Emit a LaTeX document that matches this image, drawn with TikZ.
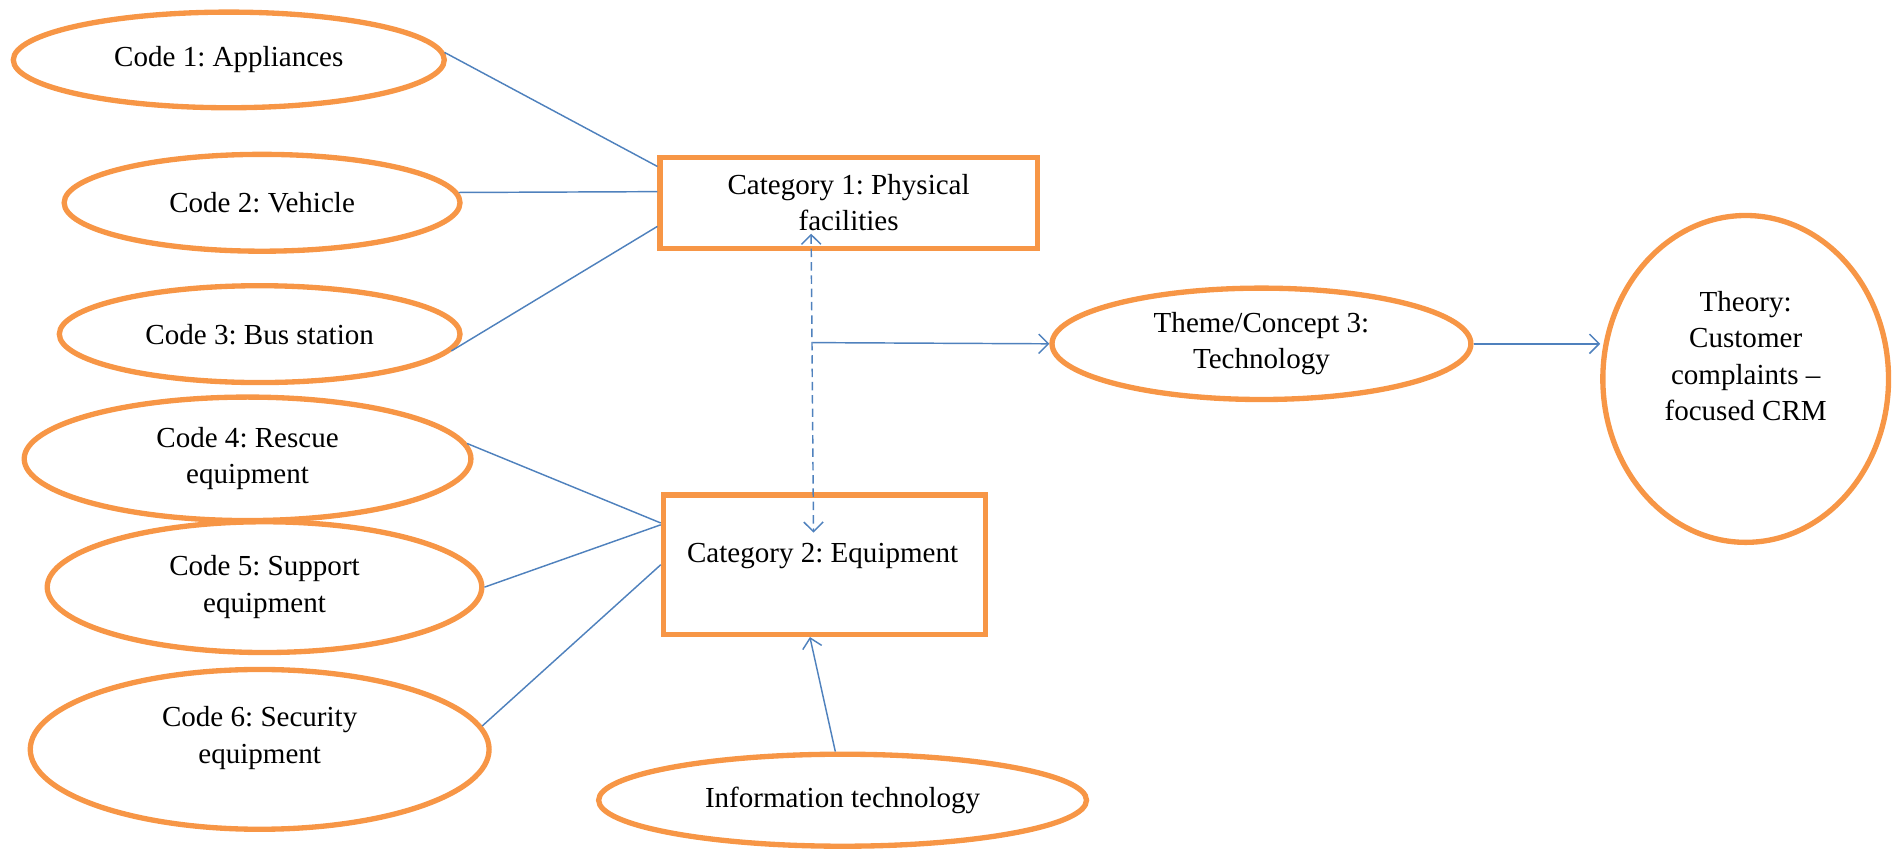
\documentclass[tikz,border=0pt]{standalone}
\usepackage{fontspec}
\setmainfont{Liberation Serif}
\usetikzlibrary{shapes.geometric,arrows.meta}
\frenchspacing

\definecolor{codeorange}{RGB}{247,150,70}
\definecolor{linkblue}{RGB}{79,129,189}

\tikzset{
  codenode/.style={ellipse, draw=codeorange, line width=2.2pt, inner sep=0pt, align=center, font=\fontsize{12pt}{15pt}\selectfont},
  catnode/.style={rectangle, draw=codeorange, line width=2.2pt, inner sep=0pt, align=center, font=\fontsize{12pt}{15pt}\selectfont},
  txt/.style={inner sep=0pt, align=center, font=\fontsize{12pt}{15pt}\selectfont},
  link/.style={draw=linkblue, line width=0.6pt},
}

\begin{document}
\begin{tikzpicture}[x=0.5pt, y=-0.5pt, >={Straight Barb[length=4pt,width=8pt]}]
\useasboundingbox (0, 0) rectangle (1567, 702);

% codes
\node[codenode, minimum width=178pt, minimum height=39.5pt] (code1) at (189, 49.5) {Code 1: Appliances};
\node[codenode, minimum width=163.5pt, minimum height=40pt] (code2) at (216.5, 167.5) {Code 2: Vehicle};
\node[codenode, minimum width=165.5pt, minimum height=40pt] (code3) at (214.5, 276) {Code 3: Bus station};
\node[codenode, minimum width=184.5pt, minimum height=51pt] (code4) at (204.5, 379) {Code 4: Rescue\\equipment};
\node[codenode, minimum width=179.5pt, minimum height=54pt] (code5) at (218.5, 485) {Code 5: Support\\equipment};
\node[codenode, minimum width=189.5pt, minimum height=66pt] (code6) at (214.5, 619) {};
\node[txt] (code6text) at (214.5, 609.5) {Code 6: Security\\equipment};

% categories
\node[catnode, minimum width=155.75pt, minimum height=37.5pt] (cat1) at (701, 167.5) {Category 1: Physical\\facilities};
\node[catnode, minimum width=133pt, minimum height=57.5pt] (cat2) at (681, 466.5) {};
\node[txt] (cat2text) at (679.5, 459.6) {Category 2: Equipment};
\node[codenode, minimum width=201.5pt, minimum height=38pt] (info) at (696, 661) {Information technology};

% theme and theory
\node[codenode, minimum width=173pt, minimum height=46pt] (theme) at (1042, 284) {Theme/Concept 3:\\Technology};
\node[codenode, minimum width=118pt, minimum height=135pt] (theory) at (1442, 313) {};
\node[txt] (theorytext) at (1442, 294) {Theory:\\Customer\\complaints –\\focused CRM};

% links
\draw[link] (code1.2) -- ([yshift=15pt]cat1.west);
\draw[link] (code2.3) -- ([yshift=4.6pt]cat1.west);
\draw[link] (code3.-5) -- ([yshift=-9.75pt]cat1.west);
\draw[link] (code4.4) -- ([yshift=17.25pt]cat2.west);
\draw[link] (code5.east) -- ([yshift=16.5pt]cat2.west);
\draw[link] (code6.6) -- (cat2.west);

\coordinate (dtop) at (670, 193);
\coordinate (dbot) at (672, 440);
\draw[link, <->, dash pattern=on 3.5pt off 2pt] (dtop) -- (dbot);
\coordinate (hstart) at (671, 283);
\draw[link, ->] (hstart) -- (theme.west);
\draw[link, ->] (theme.east) -- (theme.east -| theory.west);
\draw[link, ->] ([xshift=-3pt]info.north) -- ([xshift=-6pt]cat2.south);
\end{tikzpicture}
\end{document}
